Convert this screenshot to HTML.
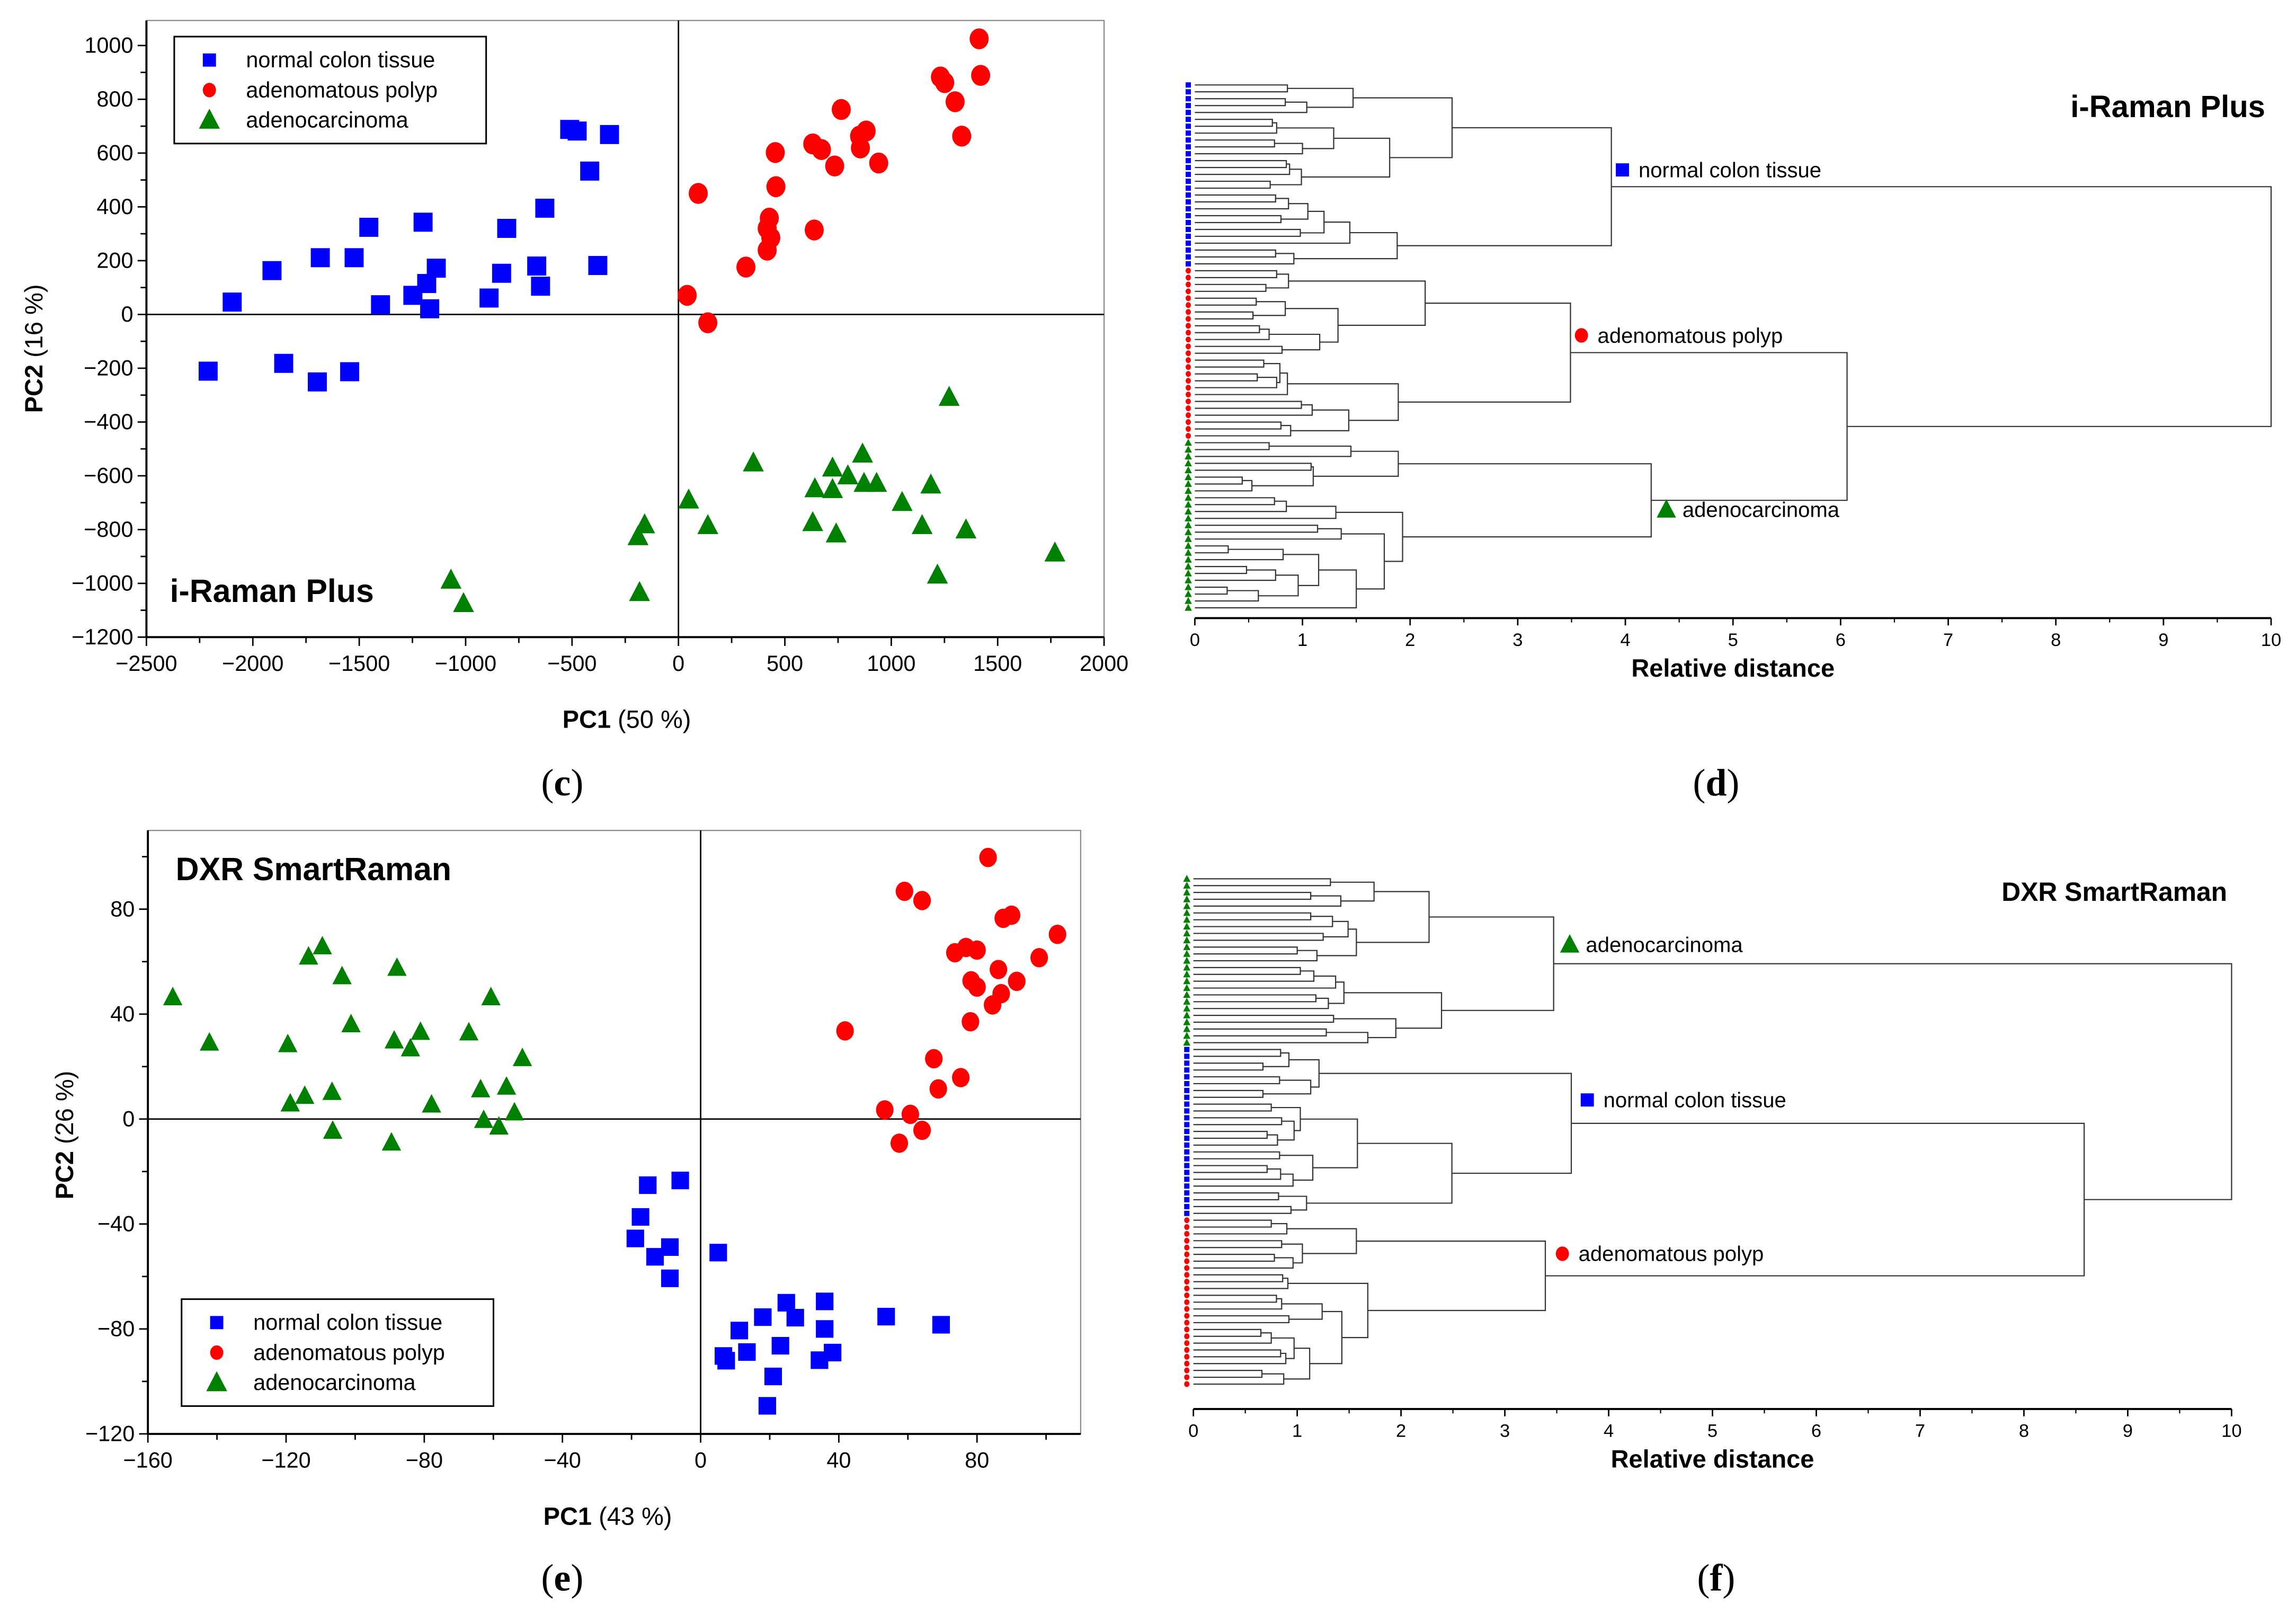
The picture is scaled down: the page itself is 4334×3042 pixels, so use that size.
<!DOCTYPE html>
<html><head><meta charset="utf-8"><style>
html,body{margin:0;padding:0;background:#fff;}
svg{display:block;}
text{font-family:"Liberation Sans",sans-serif;}
</style></head><body>
<svg id="fig" xmlns="http://www.w3.org/2000/svg" width="4334" height="3042" viewBox="0 0 1568 1100.6" preserveAspectRatio="none">
<rect x="0" y="0" width="1568" height="1100.6" fill="#fff"/>
<g id="root"></g>
</svg>
<script>
// ---------- Panel c data (i-Raman Plus PCA) ----------
const cNormalX = [-2210,-2097,-1910,-1855,-1697,-1683,-1545,-1524,-1455,-1400,-1248,-1200,-1183,-1169,-1138,-890,-831,-807,-666,-648,-628,-511,-476,-417,-379,-324];
const cNormalY = [-211,46,163,-182,-251,211,-213,211,324,36,71,343,115,21,172,61,153,320,180,105,395,688,682,533,182,669];
const cPolypX = [41,93,138,317,417,417,427,434,455,458,631,638,672,734,765,851,855,882,941,1231,1251,1300,1331,1413,1420];
const cPolypY = [71,450,-31,176,239,320,358,285,602,475,634,314,613,552,762,663,619,682,563,883,862,791,663,1025,889];
const cCarcX = [-1069,-1010,-183,-190,-159,48,138,352,631,641,724,724,741,796,865,872,931,1051,1145,1186,1217,1272,1351,1769];
const cCarcY = [-988,-1075,-1034,-826,-782,-690,-785,-552,-774,-648,-571,-651,-816,-600,-519,-628,-628,-699,-785,-634,-969,-308,-801,-887];
const cXTicks = [-2500,-2000,-1500,-1000,-500,0,500,1000,1500,2000];
const cYTicks = [-1200,-1000,-800,-600,-400,-200,0,200,400,600,800,1000];

// ---------- Panel e data (DXR SmartRaman PCA) ----------
const eNormalX = [-15.3,-5.9,-17.4,-18.9,-13.2,-8.9,-8.9,5.1,11.2,13.4,6.6,7.4,18.0,21.0,19.3,23.1,24.8,27.4,35.9,35.9,34.4,38.2,53.7,69.6];
const eNormalY = [-25.2,-23.4,-37.3,-45.5,-52.5,-48.8,-60.7,-50.9,-80.6,-88.8,-90.3,-92.1,-75.5,-98.1,-109.3,-86.4,-70.0,-75.7,-69.5,-80.0,-91.9,-89.0,-75.3,-78.4];
const ePolypX = [83.2,59.0,64.1,87.6,90.0,103.3,73.6,76.8,80.0,98.0,86.2,78.3,80.0,91.5,87.0,84.5,78.1,41.8,67.5,75.3,68.8,53.3,60.7,64.1,57.5];
const ePolypY = [99.7,86.8,83.3,76.5,77.7,70.4,63.4,65.4,64.4,61.5,57.0,52.7,50.3,52.5,47.8,43.5,37.1,33.6,23.0,15.8,11.5,3.5,1.8,-4.3,-9.2];
const eCarcX = [-152.8,-142.2,-119.5,-118.8,-114.6,-106.7,-113.5,-109.5,-103.8,-101.2,-106.5,-89.5,-87.9,-88.7,-84.0,-81.1,-77.9,-67.1,-63.7,-60.7,-56.2,-51.6,-62.8,-58.4,-53.9];
const eCarcY = [46.4,29.1,28.5,5.9,8.8,10.3,61.9,65.8,54.4,36.1,-4.5,-9.0,57.6,29.9,26.9,33.2,5.5,33.0,11.3,46.4,12.3,23.2,-0.4,-2.9,2.5];
const eXTicks = [-160,-120,-80,-40,0,40,80];
const eYTicks = [-120,-80,-40,0,40,80];

// ---------- Dendrogram data (linkage heights, nested [height, left, right]; 0 = leaf) ----------
const dNormal = [3.87,
  [2.39,[1.47,[0.86,0,0],[1.04,[0.84,0,0],0]],
        [1.81,[1.29,[0.76,[0.72,0,0],0],[1.0,[0.74,0,0],0]],[0.99,[0.88,[0.85,0,0],0],[0.7,0,0]]]],
  [1.88,[1.44,[1.2,[1.05,[0.87,[0.75,0,0],0],[0.8,0,0]],[0.98,0,0]],0],[0.92,[0.75,0,0],0]]];
const dPolyp = [3.49,
  [2.14,[0.87,[0.76,0,0],[0.66,0,0]],[1.33,[0.84,[0.57,0,0],[0.54,0,0]],[1.16,[0.69,[0.6,0,0],0],[0.81,0,0]]]],
  [1.89,[0.86,[0.79,[0.64,0,0],[0.76,[0.58,0,0],0]],0],[1.43,[1.09,[0.99,0,0],0],[0.89,[0.8,0,0],0]]]];
const dCarc = [4.24,
  [1.89,[1.45,[0.69,0,0],0],[1.1,[1.08,0,0],[0.53,[0.44,0,0],0]]],
  [1.93,[1.31,[0.85,[0.74,0,0],0],0],[1.76,[1.36,[1.14,0,0],0],[1.5,[1.15,[0.82,[0.31,0,0],0],[0.96,[0.75,[0.48,0,0],0],[0.59,[0.3,0,0],0]]],0]]]];
const dRootTree = [10.0,'N',[6.06,'P','G']];

const fCarc = [3.47,
  [2.27,[1.74,[1.32,0,0],[1.42,[1.13,0,0],0]],[1.57,[1.49,[1.34,[1.13,0,0],0],[1.25,0,0]],[1.19,[1.0,0,0],0]]],
  [2.39,[1.45,[1.37,[1.16,[1.03,0,0],0],0],[1.3,[1.18,0,0],0]],[1.95,[1.35,0,0],[1.68,[1.28,0,0],0]]]];
const fNormal = [3.64,
  [1.21,[0.92,[0.84,0,0],[0.67,0,0]],[1.13,[0.83,0,0],[0.67,0,0]]],
  [2.49,[1.58,[1.03,[0.75,0,0],[0.97,[0.85,0,0],[0.81,[0.71,0,0],0]]],[1.15,[0.83,0,0],[0.96,[0.84,[0.71,0,0],0],0]]],[1.09,[0.82,0,0],[0.94,0,0]]]];
const fPolyp = [3.39,
  [1.57,[0.9,[0.75,0,0],0],[1.05,[0.85,0,0],[0.96,[0.78,0,0],0]]],
  [1.68,[0.91,[0.86,0,0],0],[1.43,[1.24,[0.85,[0.8,0,0],0],[0.92,0,0]],[1.12,[0.97,[0.75,[0.65,0,0],0],[0.89,[0.84,0,0],0]],[0.87,[0.66,0,0],0]]]]];
const fRootTree = [10.0,'G',[8.58,'N','P']];
const distTicks = [0,1,2,3,4,5,6,7,8,9,10];

const NS = 'http://www.w3.org/2000/svg';
const root = document.getElementById('root');
function el(tag, attrs, parent, txt){
  const e = document.createElementNS(NS, tag);
  for (const k in attrs) e.setAttribute(k, attrs[k]);
  if (txt !== undefined) e.textContent = txt;
  (parent || root).appendChild(e);
  return e;
}
const BLUE='#0000ff', RED='#ff0000', GREEN='#008000';

function marker(g, kind, x, y, s){
  let m;
  if (kind==='sq') m = el('rect',{x:x-s/2,y:y-s/2,width:s,height:s,fill:BLUE},g);
  else if (kind==='ci') m = el('ellipse',{cx:x,cy:y,rx:s*0.5,ry:s*0.55,fill:RED},g);
  else m = el('polygon',{points:`${x},${y-s*0.6} ${x-s*0.55},${y+s*0.45} ${x+s*0.55},${y+s*0.45}`,fill:GREEN},g);
  return m;
}

// ---------- Scatter panel ----------
function scatter(cfg){
  const g = el('g',{});
  
  
  const sx = v => cfg.x0 + (v - cfg.xmin)/(cfg.xmax-cfg.xmin)*(cfg.x1-cfg.x0);
  const sy = v => cfg.y1 - (v - cfg.ymin)/(cfg.ymax-cfg.ymin)*(cfg.y1-cfg.y0);
  const frame = el('rect',{x:cfg.x0,y:cfg.y0,width:cfg.x1-cfg.x0,height:cfg.y1-cfg.y0,fill:'none',stroke:'#888',"stroke-width":0.8},g);
  
  
  const xl = el('line',{x1:cfg.x0,x2:cfg.x1,y1:cfg.y1,y2:cfg.y1,stroke:'#000',"stroke-width":1.4},g);
  
  
  const yl = el('line',{x1:cfg.x0,x2:cfg.x0,y1:cfg.y0,y2:cfg.y1,stroke:'#000',"stroke-width":1.4},g);
  
  
  const z1 = el('line',{x1:cfg.x0,x2:cfg.x1,y1:sy(0),y2:sy(0),stroke:'#000',"stroke-width":1},g);
  
  
  const z2 = el('line',{x1:sx(0),x2:sx(0),y1:cfg.y0,y2:cfg.y1,stroke:'#000',"stroke-width":1},g);
  
  
  cfg.xt.forEach((v,i)=>{
    el('line',{x1:sx(v),x2:sx(v),y1:cfg.y1,y2:cfg.y1+6,stroke:'#000',"stroke-width":1},g);
    const mv = v + (cfg.xt[1]-cfg.xt[0])/2;
    if (mv<cfg.xmax) el('line',{x1:sx(mv),x2:sx(mv),y1:cfg.y1,y2:cfg.y1+4,stroke:'#000',"stroke-width":1},g);
    const t = el('text',{x:sx(v),y:cfg.y1+23,"font-size":15,"text-anchor":"middle"},g,String(v).replace('-','\u2212'));
    
    
  });
  cfg.yt.forEach(v=>{
    el('line',{x1:cfg.x0-6,x2:cfg.x0,y1:sy(v),y2:sy(v),stroke:'#000',"stroke-width":1},g);
    const mv = v + (cfg.yt[1]-cfg.yt[0])/2;
    if (mv<cfg.ymax) el('line',{x1:cfg.x0-4,x2:cfg.x0,y1:sy(mv),y2:sy(mv),stroke:'#000',"stroke-width":1},g);
    const t = el('text',{x:cfg.x0-9,y:sy(v)+5,"font-size":15,"text-anchor":"end"},g,String(v).replace('-','\u2212'));
    
    
  });
  const series = [[cfg.nx,cfg.ny,'sq','normal-point'],[cfg.px,cfg.py,'ci','polyp-point'],[cfg.cx,cfg.cy,'tr','carcinoma-point']];
  series.forEach(([xs,ys,k,nm])=>{
    xs.forEach((v,i)=>{
      const m = marker(g,k,sx(v),sy(ys[i]),cfg.ms);
      
      
    });
  });
  const lg = el('g',{},g);
  
  
  el('rect',{x:cfg.lx,y:cfg.ly,width:213,height:73,fill:'#fff',stroke:'#000',"stroke-width":1.1},lg);
  const names = ['normal colon tissue','adenomatous polyp','adenocarcinoma'];
  ['sq','ci','tr'].forEach((k,i)=>{
    const yy = cfg.ly+16+i*20.5;
    const le = el('g',{},lg);
    
    
    marker(le,k,cfg.lx+24,yy,k==='tr'?13:9);
    el('text',{x:cfg.lx+49,y:yy+5,"font-size":15},le,names[i]);
  });
  const tt = el('text',{x:cfg.tx,y:cfg.ty,"font-size":22,"font-weight":"bold"},g,cfg.title);
  
  
  const xt = el('text',{x:cfg.xtx,y:cfg.xty,"font-size":17,"text-anchor":"middle"},g);
  
  
  el('tspan',{"font-weight":"bold"},xt,'PC1');
  el('tspan',{},xt,' '+cfg.xpct);
  const yt = el('text',{x:0,y:0,"font-size":17,"text-anchor":"middle",transform:`translate(${cfg.ytx},${cfg.yty}) rotate(-90)`},g);
  
  
  el('tspan',{"font-weight":"bold"},yt,'PC2');
  el('tspan',{},yt,' '+cfg.ypct);
}

scatter({name:'pca-plot-c',x0:100,x1:754,y0:14,y1:435,xmin:-2500,xmax:2000,ymin:-1200,ymax:1093,
  xt:cXTicks,yt:cYTicks,nx:cNormalX,ny:cNormalY,px:cPolypX,py:cPolypY,cx:cCarcX,cy:cCarcY,ms:13,
  lx:119,ly:25,title:'i-Raman Plus',tx:116,ty:411,xtx:428,xty:497,xpct:'(50 %)',ytx:29,yty:238,ypct:'(16 %)'});
scatter({name:'pca-plot-e',x0:101,x1:738,y0:567,y1:979,xmin:-160,xmax:110,ymin:-120,ymax:110,
  xt:eXTicks,yt:eYTicks,nx:eNormalX,ny:eNormalY,px:ePolypX,py:ePolypY,cx:eCarcX,cy:eCarcY,ms:12,
  lx:124,ly:887,title:'DXR SmartRaman',tx:120,ty:601,xtx:415,xty:1041,xpct:'(43 %)',ytx:50,yty:775,ypct:'(26 %)'});

// ---------- Dendrogram panel ----------
function dendro(cfg){
  const g = el('g',{});
  
  
  const sx = v => cfg.x0 + v/10*(cfg.x1-cfg.x0);
  let leaf = 0;
  const kinds = {N:'sq',P:'ci',G:'tr'};
  function draw(node, kind){
    if (typeof node === 'string') return draw(cfg.clusters[node], kinds[node]);
    if (node === 0){
      const y = cfg.ly0 + leaf*cfg.step; leaf++;
      const m = marker(g, kind, cfg.x0-4.5, y, kind==='tr'?4.5:3.6);
      
      
      return {y:y, h:0};
    }
    const a = draw(node[1], kind), b = draw(node[2], kind);
    const h = node[0];
    const p = el('path',{d:`M${sx(a.h)},${a.y}H${sx(h)}V${b.y}H${sx(b.h)}`,fill:'none',stroke:'#333',"stroke-width":0.8},g);
    
    
    return {y:(a.y+b.y)/2, h:h};
  }
  draw(cfg.tree, null);
  const ax = el('line',{x1:cfg.x0,x2:cfg.x1,y1:cfg.ay,y2:cfg.ay,stroke:'#000',"stroke-width":1.4},g);
  
  
  distTicks.forEach(v=>{
    el('line',{x1:sx(v),x2:sx(v),y1:cfg.ay,y2:cfg.ay+5,stroke:'#000',"stroke-width":1},g);
    if (v<10) el('line',{x1:sx(v+0.5),x2:sx(v+0.5),y1:cfg.ay,y2:cfg.ay+3,stroke:'#000',"stroke-width":0.8},g);
    const t = el('text',{x:sx(v),y:cfg.ay+19,"font-size":12.5,"text-anchor":"middle"},g,String(v));
    
    
  });
  const xt = el('text',{x:(cfg.x0+cfg.x1)/2,y:cfg.ay+40,"font-size":17,"font-weight":"bold","text-anchor":"middle"},g,'Relative distance');
  
  
  const tt = el('text',{x:cfg.tx,y:cfg.ty,"font-size":cfg.tfs,"font-weight":"bold","text-anchor":"end"},g,cfg.title);
  
  
  cfg.labels.forEach(([k,x,y,txt])=>{
    const lg = el('g',{},g);
    
    
    marker(lg,k,x,y,k==='tr'?12:9);
    el('text',{x:x+11,y:y+5,"font-size":14.5},lg,txt);
  });
}

dendro({name:'dendrogram-d',x0:816,x1:1551,ly0:58,step:(415-58)/76,ay:422,tree:dRootTree,
  clusters:{N:dNormal,P:dPolyp,G:dCarc},title:'i-Raman Plus',tx:1547,ty:80,tfs:21,
  labels:[['sq',1108,116,'normal colon tissue'],['ci',1080,229,'adenomatous polyp'],['tr',1138,348,'adenocarcinoma']]});
dendro({name:'dendrogram-f',x0:815,x1:1524,ly0:600,step:(945-600)/74,ay:962,tree:fRootTree,
  clusters:{N:fNormal,P:fPolyp,G:fCarc},title:'DXR SmartRaman',tx:1521,ty:615,tfs:18,
  labels:[['tr',1072,645,'adenocarcinoma'],['sq',1084,751,'normal colon tissue'],['ci',1067,856,'adenomatous polyp']]});

// panel letters
[['(c)',384,543],['(d)',1172,543],['(e)',384,1086],['(f)',1172,1086]].forEach(([t,x,y])=>{
  const e = el('text',{x:x,y:y,"font-size":26,"text-anchor":"middle",style:'font-family:"Liberation Serif",serif'},root);
  el('tspan',{},e,'(');
  el('tspan',{"font-weight":"bold"},e,t[1]);
  el('tspan',{},e,')');
  
  
});
</script>
</body></html>
